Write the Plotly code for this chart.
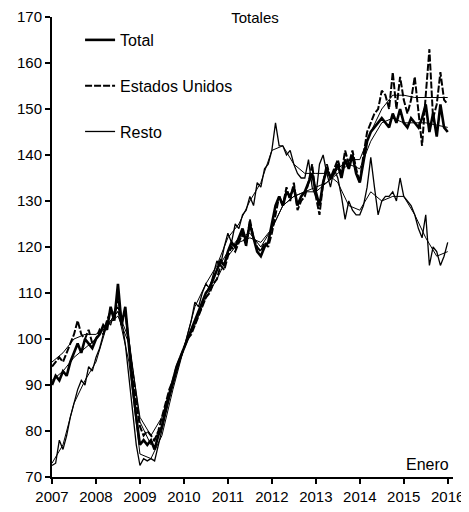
import plotly.graph_objects as go

# Monthly data, January 2007 to January 2016
start_year = 2007
n_months = 109

total = [90, 92, 91, 93, 92, 95, 97, 99, 97, 100, 99, 98,
         100, 101, 103, 102, 107, 104, 112, 103, 107, 98, 90, 83,
         77, 78, 77, 78, 76, 79, 81, 85, 88, 91, 94, 96,
         98, 100, 102, 104, 106, 108, 110, 111, 113, 115, 117, 116,
         119, 121, 120, 122, 124, 121, 125, 122, 119, 118, 120, 121,
         125, 129, 131, 129, 132, 131, 133, 129, 131, 132, 134, 136,
         132, 129, 134, 137, 135, 136, 138, 135, 139, 137, 140, 136,
         134, 139, 143, 145, 146, 147, 148, 147, 146, 149, 147, 150,
         147, 146, 148, 147, 146, 148, 151, 145, 149, 144, 151, 146,
         145]

estados_unidos = [94, 95, 96, 95, 97, 99, 101, 104, 101, 100, 102, 99,
                  100, 102, 101, 104, 106, 105, 109, 104, 106, 99, 92, 86,
                  81, 79, 80, 79, 78, 80, 83, 86, 89, 91, 94, 96,
                  98, 100, 101, 103, 105, 107, 109, 110, 112, 113, 116, 115,
                  118, 120, 119, 121, 123, 120, 126, 122, 120, 119, 121, 120,
                  123, 127, 131, 129, 133, 130, 134, 128, 130, 131, 134, 138,
                  131, 127, 134, 138, 135, 137, 139, 136, 141, 138, 141, 137,
                  134, 140, 145, 147, 149, 150, 154, 153, 150, 158, 150, 157,
                  152, 149, 152, 157, 150, 142, 153, 163, 148, 151, 158, 152,
                  151]

resto = [72.5, 73, 78, 76, 79, 83, 86, 89, 91, 90, 94, 93,
         96, 98, 101, 104, 103, 106, 107, 104, 99, 92, 84, 77,
         72.5, 74, 73.5, 74, 73.5, 77, 80, 84, 87, 90, 93, 96,
         98, 101, 104, 108, 107, 110, 112, 111, 114, 117, 116, 120,
         123, 121, 125, 124, 127, 128, 131, 129, 134, 133, 137, 138,
         141, 147, 142, 142, 140, 141, 138, 136, 135, 135, 139, 133,
         131, 138, 140, 136, 133, 137, 135, 131, 126, 130, 128, 127,
         127, 129, 133, 139.5, 133, 127, 130, 131, 131, 132, 130, 135,
         131, 130, 129, 127, 124, 122, 127, 116, 120, 119, 116, 118,
         121]

# Quarterly trend lines, 2007-Q1 to 2016-Q1
total_trend = [91, 93, 96, 98, 100, 103, 106, 100, 82, 77, 81, 90,
               98, 104, 110, 115, 119, 122, 123, 120, 124, 129, 131, 132,
               132, 134, 136, 138, 137, 143, 147, 148, 147, 147, 147, 146.5,
               146]
eu_trend = [95, 97, 100, 101, 101, 103, 105, 99, 83, 79, 83, 91,
            98, 103, 109, 113, 118, 121, 122, 121, 124, 129, 131, 132,
            133, 134, 137, 139, 139, 145, 150, 153, 153, 152.5, 152.5, 152.5,
            152.5]
resto_trend = [73, 77, 86, 91, 95, 103, 106, 95, 75, 74, 79, 89,
               98, 107, 112, 116, 122, 125, 130, 134, 141, 142, 138, 136,
               136, 136, 134, 129, 128, 132, 130, 131, 131, 127, 122, 118,
               119]

year_ticks = [2007, 2008, 2009, 2010, 2011, 2012, 2013, 2014, 2015, 2016]
year_labels = ["2007", "2008", "2009", "2010", "2011", "2012", "2013", "2014", "2015", "2016"]
y_ticks = [70, 80, 90, 100, 110, 120, 130, 140, 150, 160, 170]

x_month = [start_year + i / 12 for i in range(n_months)]
x_quarter = [start_year + i / 4 for i in range(len(total_trend))]

FONT = "Liberation Sans, Arial, sans-serif"

fig = go.Figure()

for yq in (total_trend, eu_trend, resto_trend):
    fig.add_trace(go.Scatter(x=x_quarter, y=yq, mode="lines", showlegend=False,
                             hoverinfo="skip",
                             line=dict(color="black", width=1)))

fig.add_trace(go.Scatter(x=x_month, y=total, mode="lines", name="Total",
                         legendgroup="a",
                         line=dict(color="black", width=2.6)))
fig.add_trace(go.Scatter(x=x_month, y=estados_unidos, mode="lines", name="Estados Unidos",
                         legendgroup="b",
                         line=dict(color="black", width=2, dash="7px,2px")))
fig.add_trace(go.Scatter(x=x_month, y=resto, mode="lines", name="Resto",
                         legendgroup="c",
                         line=dict(color="black", width=1.3)))

fig.update_layout(
    width=461, height=504,
    margin=dict(l=44, r=16, t=9, b=35, autoexpand=False),
    paper_bgcolor="white", plot_bgcolor="white",
    font=dict(family=FONT, color="black", size=15),
    title=dict(text="Totales", x=0.5358, xanchor="center", y=0.992, yanchor="top",
               automargin=False,
               font=dict(family=FONT, size=15, color="black")),
    legend=dict(x=0.07, y=0.987, xanchor="left", yanchor="top",
                bgcolor="rgba(0,0,0,0)", font=dict(family=FONT, size=16, color="black"),
                traceorder="grouped", tracegroupgap=22),
    xaxis=dict(range=[2007, 2016.12], tickvals=year_ticks, ticktext=year_labels,
               automargin=False, tickangle=0,
               showgrid=False, zeroline=False, showline=True, linecolor="black", linewidth=2,
               ticks="outside", ticklen=5, tickwidth=2, tickcolor="black",
               tickfont=dict(family=FONT, size=15, color="black")),
    yaxis=dict(range=[70, 170], tickvals=y_ticks, automargin=False,
               showgrid=False, zeroline=False, showline=True, linecolor="black", linewidth=2,
               ticks="outside", ticklen=5, tickwidth=2, tickcolor="black",
               tickfont=dict(family=FONT, size=15, color="black")),
    annotations=[dict(text="Enero", xref="paper", yref="paper", x=0.995, y=0.005,
                      xanchor="right", yanchor="bottom", showarrow=False,
                      font=dict(family=FONT, size=16, color="black"))],
)

fig.write_html("out.html")
